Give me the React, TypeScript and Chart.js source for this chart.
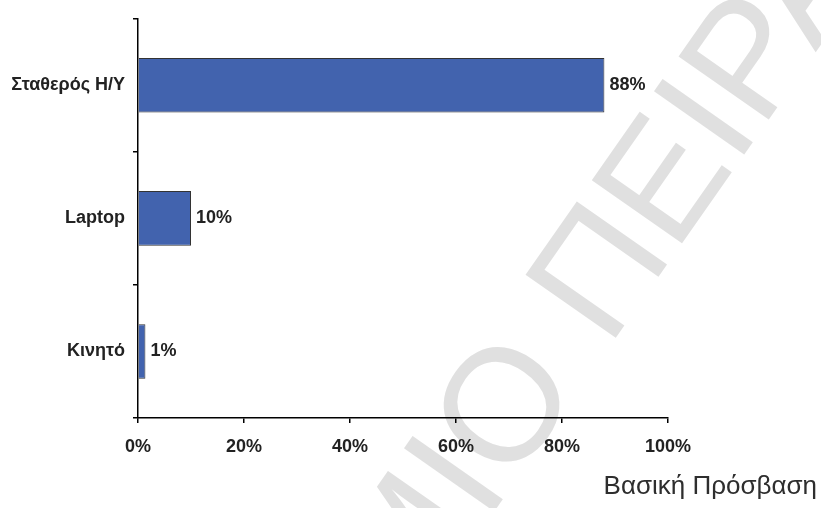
import React, { useEffect, useRef } from "react";
import { Chart, registerables } from "chart.js";

Chart.register(...registerables);

const categories = ["Σταθερός Η/Υ", "Laptop", "Κινητό"];
const values = [88, 10, 1.4];
const valueLabels = ["88%", "10%", "1%"];
const xTicks = [0, 20, 40, 60, 80, 100];
const chartTitle = "Βασική Πρόσβαση";
const watermark = "ΠΑΝΕΠΙΣΤΗΜΙΟ ΠΕΙΡΑΙΑ";

const FONT = '"Liberation Sans", Arial, sans-serif';

export default function App() {
  const ref = useRef<HTMLCanvasElement | null>(null);

  useEffect(() => {
    const canvas = ref.current;
    if (!canvas) return;

    const watermarkPlugin = {
      id: "watermark",
      beforeDraw(chart: any) {
        const ctx = chart.ctx;
        ctx.save();
        ctx.translate(547, 436);
        ctx.rotate((-55 * Math.PI) / 180);
        ctx.font = `160px ${FONT}`;
        ctx.fillStyle = "#e0e0e0";
        ctx.textBaseline = "alphabetic";
        ctx.textAlign = "left";
        const w1 = ctx.measureText("ΠΑΝΕΠΙΣΤΗΜΙ").width;
        const wO = ctx.measureText("Ο").width;
        ctx.fillText(watermark, -(w1 + wO / 2), 0);
        ctx.restore();
      },
    };

    const labelsPlugin = {
      id: "valueLabels",
      afterDatasetsDraw(chart: any) {
        const ctx = chart.ctx;
        const meta = chart.getDatasetMeta(0);
        ctx.save();
        ctx.font = `bold 18px ${FONT}`;
        ctx.fillStyle = "#222";
        ctx.textAlign = "left";
        ctx.textBaseline = "middle";
        meta.data.forEach((bar: any, i: number) => {
          ctx.fillText(valueLabels[i], bar.x + 5, bar.y);
        });
        ctx.restore();
      },
      afterDraw(chart: any) {
        const ctx = chart.ctx;
        ctx.save();
        ctx.font = `26px ${FONT}`;
        ctx.fillStyle = "#2e2e2e";
        ctx.textAlign = "right";
        ctx.textBaseline = "alphabetic";
        ctx.fillText(chartTitle, 817, 494);
        ctx.restore();
      },
    };

    const chart = new Chart(canvas, {
      type: "bar",
      data: {
        labels: categories,
        datasets: [
          {
            data: values,
            backgroundColor: "#4263AE",
            borderColor: "#333333",
            borderWidth: 1,
            borderSkipped: "start",
            barPercentage: 0.41,
            categoryPercentage: 1,
          },
        ],
      },
      options: {
        indexAxis: "y",
        animation: false,
        responsive: false,
        maintainAspectRatio: false,
        layout: { padding: { top: 13, right: 153, left: 0, bottom: 0 } },
        plugins: {
          legend: { display: false },
          tooltip: { enabled: false },
          title: { display: false },
        },
        scales: {
          x: {
            type: "linear",
            min: 0,
            max: 100,
            afterBuildTicks(scale: any) {
              scale.ticks = xTicks.map((v) => ({ value: v }));
            },
            afterFit(scale: any) {
              scale.height = 90;
            },
            grid: {
              drawOnChartArea: false,
              drawTicks: true,
              tickLength: 5,
              color: "#000",
              lineWidth: 1.5,
            },
            border: { display: true, color: "#000", width: 1.5 },
            ticks: {
              padding: 13,
              color: "#222",
              font: { family: FONT, size: 18, weight: "bold" },
              callback: (v: any) => `${v}%`,
              maxRotation: 0,
              autoSkip: false,
            },
          },
          y: {
            type: "category",
            afterFit(scale: any) {
              scale.width = 138;
            },
            grid: {
              drawOnChartArea: false,
              drawTicks: true,
              tickLength: 5,
              color: "#000",
              lineWidth: 1.5,
              offset: true,
            },
            border: { display: true, color: "#000", width: 1.5 },
            ticks: {
              padding: 8,
              color: "#222",
              font: { family: FONT, size: 18, weight: "bold" },
            },
          },
        },
      },
      plugins: [watermarkPlugin, labelsPlugin],
    } as any);

    return () => chart.destroy();
  }, []);

  return (
    <div
      style={{
        position: "absolute",
        left: 0,
        top: 0,
        width: 821,
        height: 508,
        background: "#fff",
      }}
    >
      <canvas ref={ref} width={821} height={508} />
    </div>
  );
}
